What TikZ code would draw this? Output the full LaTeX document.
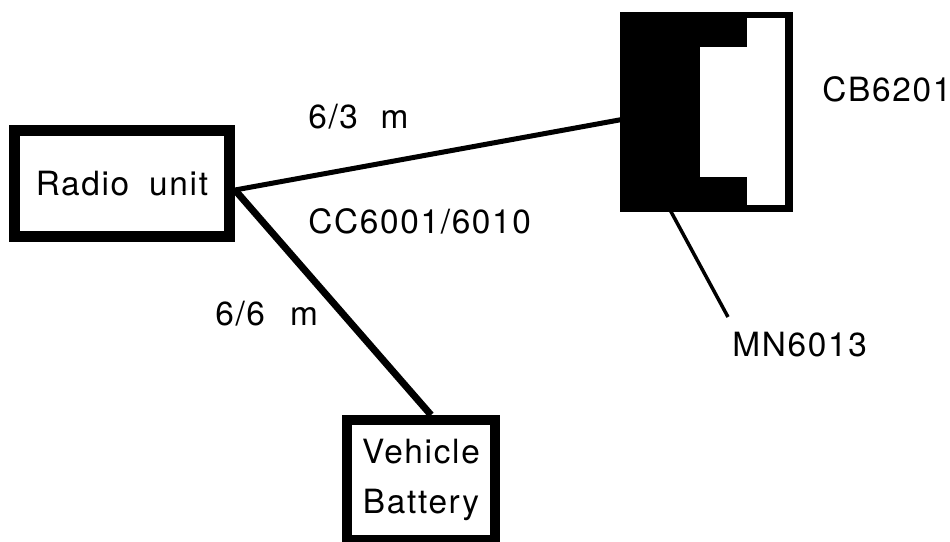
\documentclass[tikz,border=0pt]{standalone}
\usepackage{fontspec}
\setmainfont{TeX Gyre Heros}[LetterSpace=5]
\usepackage{xcolor}
\usepackage{tikz}

\tikzset{
  txt/.style={font=\fontsize{19}{28}\selectfont, inner sep=0pt},
  unitbox/.style={draw, rectangle, fill=white, align=center, inner sep=0pt}
}

\begin{document}
\begin{tikzpicture}[x=0.02cm, y=-0.02cm]
\useasboundingbox (0,0) rectangle (950,541);
\node[unitbox, txt, line width=0.22cm, minimum width=4.3cm, minimum height=2.12cm] (radio) at (122,183.5) {Radio\hspace{0.4cm}unit};
\node[unitbox, txt, line width=0.2cm, minimum width=2.96cm, minimum height=2.4cm] (battery) at (421,480) {Vehicle\\Battery};
\node[rectangle, fill=black, inner sep=0pt, minimum width=3.46cm, minimum height=4cm] (handset) at (706.5,112) {};
\fill[white] (700,47) rectangle (785,177);
\fill[white] (747,18) rectangle (785,205);
\coordinate (hub) at ([yshift=-0.13cm]radio.east);
\coordinate (mntip) at (728,317);
\draw[line width=0.1cm] (hub) -- ([xshift=0.1cm,yshift=-0.14cm]handset.west);
\draw[line width=0.14cm] (hub) -- ([xshift=0.2cm]battery.north);
\draw[line width=0.07cm] ([xshift=-0.73cm,yshift=0.05cm]handset.south) -- (mntip);
\node[txt, anchor=west] (len3) at (308,117) {6/3\hspace{0.45cm}m};
\node[txt, anchor=west] (cable) at (308,221) {CC6001/6010};
\node[txt, anchor=west] (len6) at (215,314) {6/6\hspace{0.5cm}m};
\node[txt, anchor=west] (cb) at (822,89) {CB6201};
\node[txt, anchor=west] (mn) at (732,345) {MN6013};
\end{tikzpicture}
\end{document}
